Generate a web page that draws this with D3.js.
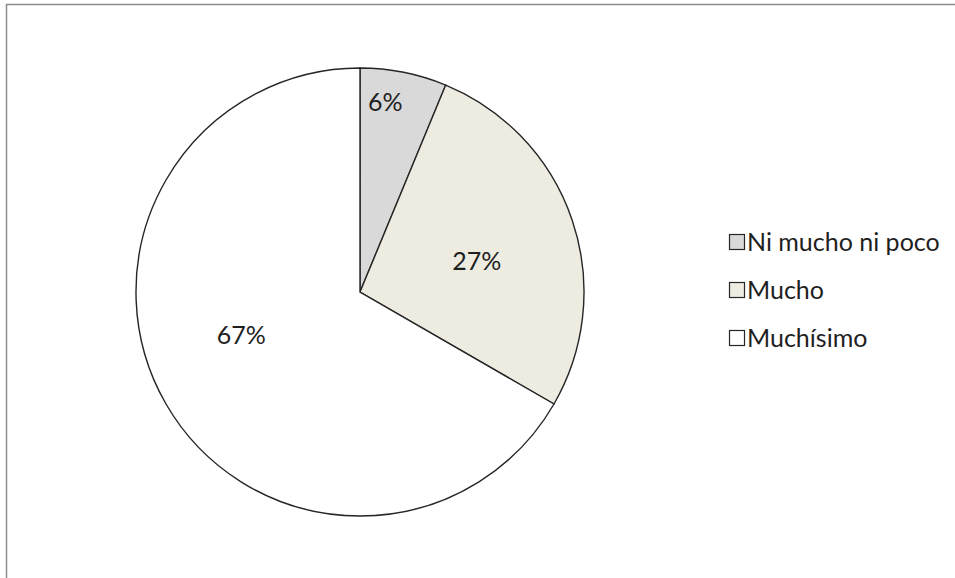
<!DOCTYPE html>
<html>
<head>
<meta charset="utf-8">
<script src="https://cdn.jsdelivr.net/npm/d3@7"></script>
<style>
  body { margin: 0; background: #fff; }
  svg { display: block; }
</style>
</head>
<body>
<div id="chart"></div>
<script>
// counts (3/48, 13/48, 32/48)
var categories = ["Ni mucho ni poco", "Mucho", "Muchísimo"];
var values = [3, 13, 32];
var labels = ["6%", "27%", "67%"];
var colors = ["#d9d9d9", "#eeece1", "#ffffff"];

var width = 955, height = 578;
var cx = 360, cy = 292, radius = 224;
var fontFamily = "Lato, 'Open Sans', sans-serif";

var svg = d3.select("#chart")
  .append("svg")
  .attr("width", width)
  .attr("height", height);

// chart border (runs off the right and bottom of the picture)
svg.append("rect")
  .attr("x", 6.5)
  .attr("y", 4.5)
  .attr("width", width + 20)
  .attr("height", height + 20)
  .style("fill", "none")
  .style("stroke", "#8c8c8c")
  .style("stroke-width", 1.5);

var pie = d3.pie().sort(null).value(function(d) { return d; });
var arcs = pie(values);

var arc = d3.arc().innerRadius(0).outerRadius(radius);

var g = svg.append("g").attr("transform", "translate(" + cx + "," + cy + ")");

g.selectAll("path")
  .data(arcs)
  .enter().append("path")
    .attr("d", arc)
    .style("fill", function(d, i) { return colors[i]; })
    .style("stroke", "#262626")
    .style("stroke-width", 1.4);

// label radius as a share of the pie radius, plus small nudges like the original
var labelRadius = [0.85, 0.55, 0.55];
var nudge = [[-12, -3], [0, 9], [-12, -18]];

g.selectAll("text.pct")
  .data(arcs)
  .enter().append("text")
    .attr("class", "pct")
    .attr("transform", function(d, i) {
      var a = (d.startAngle + d.endAngle) / 2;
      var r = radius * labelRadius[i];
      var x = r * Math.sin(a) + nudge[i][0];
      var y = -r * Math.cos(a) + nudge[i][1];
      return "translate(" + x + "," + y + ")";
    })
    .attr("text-anchor", "middle")
    .attr("dy", "0.35em")
    .style("font-family", fontFamily)
    .style("font-size", "25px")
    .style("fill", "#1f1f1f")
    .text(function(d, i) { return labels[i]; });

// legend
var legend = svg.append("g").attr("transform", "translate(729,242)");

var item = legend.selectAll("g")
  .data(categories)
  .enter().append("g")
    .attr("transform", function(d, i) { return "translate(0," + (i * 48) + ")"; });

item.append("rect")
  .attr("x", 0.5)
  .attr("y", -7.5)
  .attr("width", 15)
  .attr("height", 15)
  .style("fill", function(d, i) { return colors[i]; })
  .style("stroke", "#262626")
  .style("stroke-width", 1.2);

item.append("text")
  .attr("x", 18)
  .attr("dy", "0.35em")
  .style("font-family", fontFamily)
  .style("font-size", "25px")
  .style("fill", "#1f1f1f")
  .text(function(d) { return d; });
</script>
</body>
</html>
